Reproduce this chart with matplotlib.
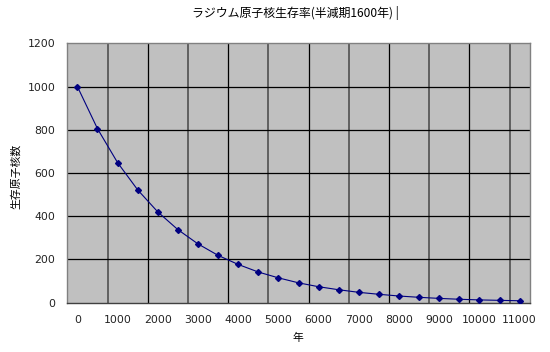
import matplotlib
matplotlib.use("Agg")
import matplotlib.pyplot as plt
import numpy as np

plt.rcParams['font.family'] = ['Noto Sans CJK JP', 'DejaVu Sans']

years = [0, 500, 1000, 1500, 2000, 2500, 3000, 3500, 4000, 4500, 5000, 5500,
         6000, 6500, 7000, 7500, 8000, 8500, 9000, 9500, 10000, 10500, 11000]
survivors = [1000, 805, 648, 522, 420, 338, 272, 219, 177, 142, 115, 92,
             74, 60, 48, 39, 31, 25, 20, 16, 13, 11, 9]
yticks = [0, 200, 400, 600, 800, 1000, 1200]

title = "ラジウム原子核生存率(半減期1600年)"
xlabel = "年"
ylabel = "生存原子核数"

fig = plt.figure(figsize=(5.5, 3.52), dpi=100)
ax = fig.add_axes([0.1224, 0.140, 0.8407, 0.737])
ax.set_facecolor('#C0C0C0')

n = len(years)
pos = np.arange(n)
ax.set_xlim(-0.5, n - 0.5)
ax.set_ylim(0, 1200)

# vertical gridlines at category boundaries every 2 categories
for i, k in enumerate(range(2, n, 2)):
    xb = k - 0.5
    if i % 2 == 0:
        ax.axvline(xb, color='#606060', lw=1.4, zorder=1)
    else:
        ax.axvline(xb, color='black', lw=0.9, zorder=1)
for yv in yticks[1:-1]:
    ax.axhline(yv, color='black', lw=0.9, zorder=1)

ax.plot(pos, survivors, color='#000080', lw=0.8, marker='D', markersize=3,
        markerfacecolor='#000080', markeredgecolor='#000080', zorder=3)

tickfont = dict(family='DejaVu Sans', size=7.8, color='#222222')
ax.set_xticks(pos[::2])
ax.set_xticklabels([str(y) for y in years[::2]], **tickfont)
ax.set_yticks(yticks)
ax.set_yticklabels([str(v) for v in yticks], **tickfont)
ax.tick_params(axis='x', length=0, pad=9)
ax.tick_params(axis='y', length=0, pad=8.5)

for s in ['top', 'right', 'left']:
    ax.spines[s].set_color('#808080')
    ax.spines[s].set_linewidth(1)
ax.spines['bottom'].set_color('#404040')
ax.spines['bottom'].set_linewidth(1)

fig.text(295/550, 1 - 13/352, title + " |", ha='center', va='center', fontsize=8.6)
fig.text(298/550, 1 - 338/352, xlabel, ha='center', va='center', fontsize=7.8)
fig.text(16/550, 1 - 176/352, ylabel, ha='center', va='center', fontsize=7.8,
         rotation=90)

fig.savefig("out.png", dpi=100)
